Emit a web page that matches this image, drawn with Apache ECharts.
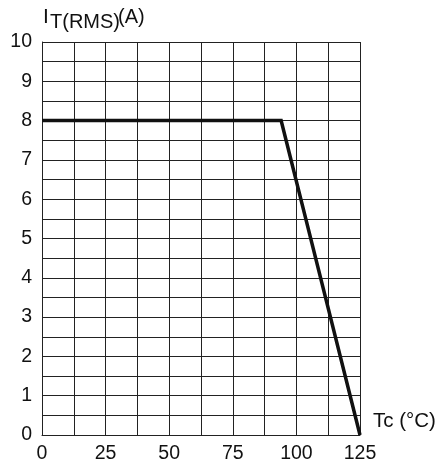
<!DOCTYPE html>
<html>
<head>
<meta charset="utf-8">
<script src="https://cdn.jsdelivr.net/npm/echarts@6/dist/echarts.min.js"></script>
<style>
  html, body { margin: 0; padding: 0; background: #fff; }
  #chart { width: 445px; height: 465px; }
</style>
</head>
<body>
<div id="chart"></div>
<script>
// Derating curve: on-state RMS current vs. case temperature
const caseTemp = [0, 94, 125];
const currentRms = [8, 8, 0];
const xTickLabels = [0, 25, 50, 75, 100, 125];
const yTickLabels = [0, 1, 2, 3, 4, 5, 6, 7, 8, 9, 10];

const FONT = '"Liberation Sans", Arial, sans-serif';
const gridColor = '#222';

const chart = echarts.init(document.getElementById('chart'), null, { renderer: 'canvas' });

chart.setOption({
  animation: false,
  backgroundColor: '#fff',
  grid: { left: 42, right: 85, top: 42, bottom: 30, containLabel: false },
  xAxis: {
    type: 'value',
    min: 0, max: 125, interval: 12.5,
    axisLine: { show: true, lineStyle: { color: gridColor, width: 1 } },
    axisTick: { show: false },
    axisLabel: {
      margin: 9, color: '#111', fontFamily: FONT, fontSize: 19.5,
      formatter: v => (xTickLabels.indexOf(v) >= 0 ? String(v) : '')
    },
    splitLine: { show: true, lineStyle: { color: gridColor, width: 1 } }
  },
  yAxis: {
    type: 'value',
    min: 0, max: 10, interval: 0.5,
    axisLine: { show: true, lineStyle: { color: gridColor, width: 1 } },
    axisTick: { show: false },
    axisLabel: {
      margin: 10, color: '#111', fontFamily: FONT, fontSize: 19.5,
      formatter: v => (yTickLabels.indexOf(v) >= 0 ? String(v) : '')
    },
    splitLine: { show: true, lineStyle: { color: gridColor, width: 1 } }
  },
  series: [{
    type: 'line',
    data: caseTemp.map((t, i) => [t, currentRms[i]]),
    showSymbol: false,
    lineStyle: { color: '#111', width: 3.5, join: 'miter' },
    z: 5
  }],
  graphic: [
    { type: 'text', left: 43, top: 7,
      style: { text: 'I', font: '21px ' + FONT, fill: '#111' } },
    { type: 'text', left: 50, top: 12,
      style: { text: 'T(RMS)', font: '20px ' + FONT, fill: '#111' } },
    { type: 'text', left: 118, top: 7,
      style: { text: '(A)', font: '20px ' + FONT, fill: '#111' } },
    { type: 'text', left: 373, top: 411,
      style: { text: 'Tc (°C)', font: '20.5px ' + FONT, fill: '#111' } }
  ]
});
</script>
</body>
</html>
